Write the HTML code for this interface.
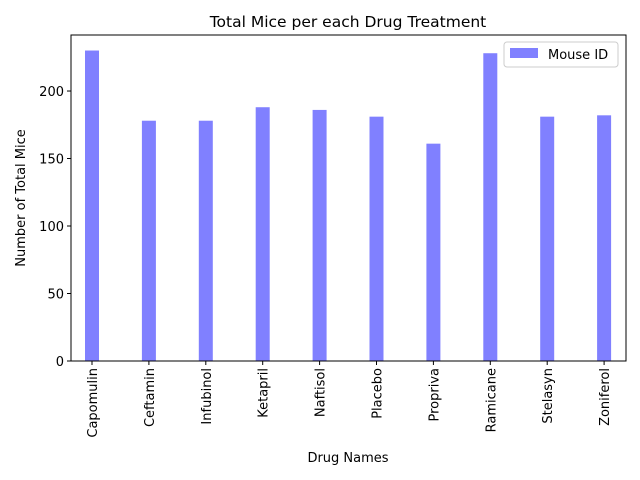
<!DOCTYPE html>
<html><head><meta charset="utf-8"><style>body{margin:0;background:#fff}svg{display:block;font-family:"DejaVu Sans","Liberation Sans",sans-serif}</style></head>
<body>
<svg id="chart" width="640" height="480"></svg>
<script>
const categories=["Capomulin","Ceftamin","Infubinol","Ketapril","Naftisol","Placebo","Propriva","Ramicane","Stelasyn","Zoniferol"];
const values=[230,178,178,188,186,181,161,228,181,182];
const yTicks=[0,50,100,150,200];
const NS="http://www.w3.org/2000/svg";
const svg=document.getElementById('chart');
const L=71,R=626,T=35,B=361,yMax=241.5;
const x0=92,step=56.9,bw=14;
function xs(i){return x0+i*step;}
function ys(v){return B-(v/yMax)*(B-T);}
function mk(t,a,txt){const e=document.createElementNS(NS,t);for(const k in a)e.setAttribute(k,a[k]);if(txt!==undefined)e.textContent=txt;svg.appendChild(e);return e;}
values.forEach((v,i)=>{
const r=mk('rect',{x:xs(i)-bw/2,y:ys(v),width:bw,height:B-ys(v),fill:'#8080ff'});


});
const fr=mk('rect',{x:L,y:T,width:R-L,height:B-T,fill:'none',stroke:'#000','stroke-width':1});


yTicks.forEach(t=>{
const y=ys(t);
mk('line',{x1:L-4,x2:L,y1:y,y2:y,stroke:'#000'});
const tx=mk('text',{x:L-7,y:y+5,'font-size':13,'text-anchor':'end'},t);


});
categories.forEach((c,i)=>{
const x=xs(i);
mk('line',{x1:x,x2:x,y1:B,y2:B+4,stroke:'#000'});
const tx=mk('text',{x:0,y:0,'font-size':13,'text-anchor':'end',transform:`translate(${x+5},${B+7}) rotate(-90)`},c);


});
let t=mk('text',{x:348,y:27,'font-size':15.5,'text-anchor':'middle'},'Total Mice per each Drug Treatment');

t=mk('text',{x:348,y:462,'font-size':13,'text-anchor':'middle'},'Drug Names');

t=mk('text',{x:0,y:0,'font-size':13,'text-anchor':'middle',transform:'translate(25,198) rotate(-90)'},'Number of Total Mice');

const lg=mk('rect',{x:504,y:42,width:114,height:25,rx:3,fill:'#fff',stroke:'#ccc'});

mk('rect',{x:510,y:48,width:28,height:10,fill:'#8080ff'});
t=mk('text',{x:548,y:59,'font-size':13},'Mouse ID');

</script>
</body></html>
